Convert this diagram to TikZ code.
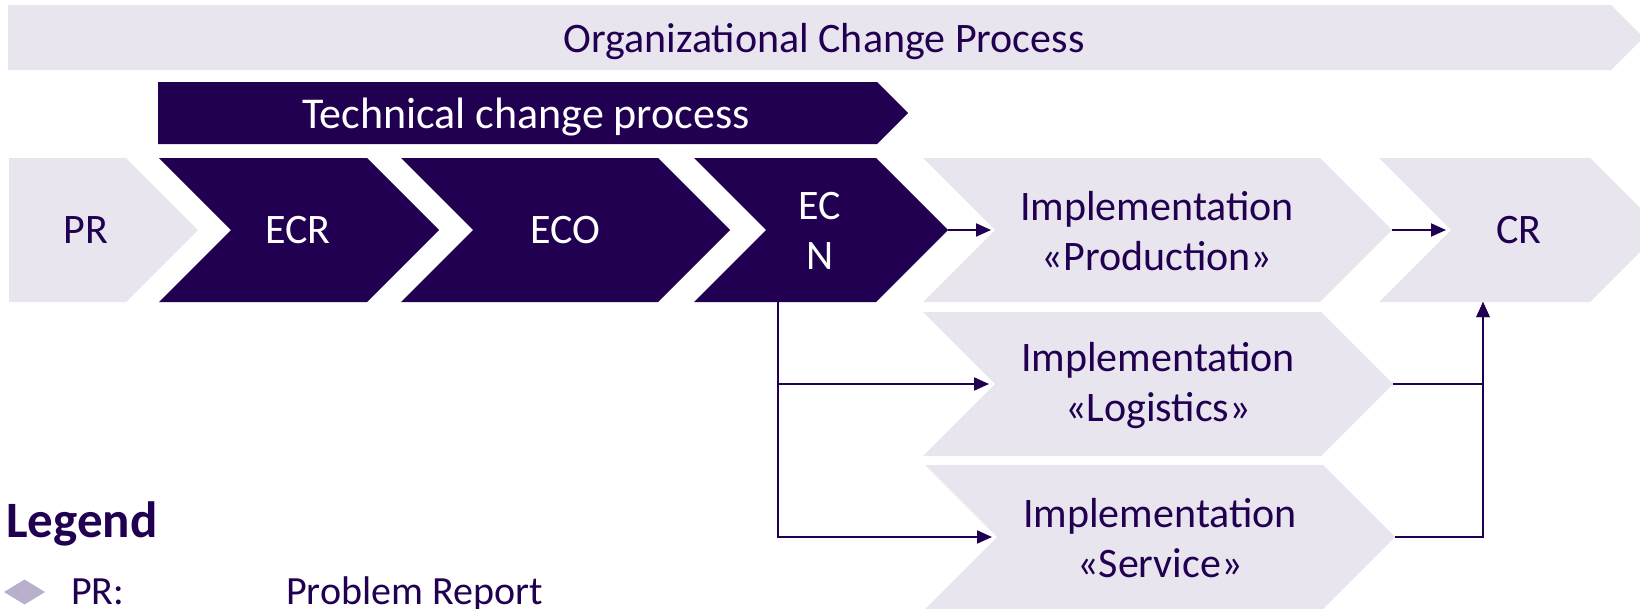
\documentclass[tikz,border=0pt]{standalone}
\usepackage{fontspec}
\setmainfont{Carlito}
\usetikzlibrary{arrows.meta}
\definecolor{dp}{RGB}{33,0,81}
\definecolor{lt}{RGB}{232,229,238}
\definecolor{lg}{RGB}{184,176,204}
% #1 style, #2 left x, #3 notch depth, #4 shoulder x, #5 top y, #6 bottom y
\newcommand\mychev[6]{%
  \fill[#1] (#2,#5) -- (#4,#5) -- ({#4+(#6-#5)/2},{(#5+#6)/2}) -- (#4,#6)
    -- (#2,#6) -- ({#2+#3},{(#5+#6)/2}) -- cycle;}
\begin{document}
\begin{tikzpicture}[x=1pt,y=-1pt,
  dark/.style={fill=dp},
  light/.style={fill=lt},
  wtxt/.style={text=white,font=\fontsize{42}{50}\selectfont,align=center,inner sep=0pt},
  ptxt/.style={text=dp,font=\fontsize{42}{50}\selectfont,align=center,inner sep=0pt},
  conn/.style={draw=dp,line width=2pt},
  arr/.style={conn,-{Triangle[length=15pt,width=13pt]}}]
\useasboundingbox (0,0) rectangle (1640,608);
\clip (0,0) rectangle (1640,608);
% shapes
\mychev{light}{8}{0}{1611}{5}{70}
\mychev{dark}{158}{0}{877}{82}{144}
\mychev{light}{9}{0}{126}{158}{302}
\mychev{dark}{159}{72}{367}{158}{302}
\mychev{dark}{401}{72}{658}{158}{302}
\mychev{dark}{694}{72}{876}{158}{302}
\mychev{light}{923}{72}{1320}{158}{302}
\mychev{light}{1379}{72}{1590}{158}{302}
\mychev{light}{923}{72}{1321}{312}{456}
\mychev{light}{925}{72}{1323}{465}{609}
% texts
\node[ptxt,anchor=base] (org) at (824,52) {Organizational Change Process};
\node[wtxt,anchor=base,font=\fontsize{44}{50}\selectfont] (tech) at (526,128) {Technical change process};
\node[ptxt] (pr) at (86,230) {PR};
\node[wtxt] (ecr) at (298,230) {ECR};
\node[wtxt] (eco) at (565,230) {ECO};
\node[wtxt] (ecn) at (820,231) {EC\\N};
\node[ptxt] (prod) at (1157,231) {Implementation\\«Production»};
\node[ptxt] (cr) at (1519,230) {CR};
\node[ptxt] (log) at (1158,386) {Implementation\\«Logistics»};
\node[ptxt] (svc) at (1160,538) {Implementation\\«Service»};
% connector ends
\coordinate (ecn-tip) at (948,230);
\coordinate (prod-in) at (991,230);
\coordinate (prod-tip) at (1392,230);
\coordinate (cr-in) at (1446,230);
\coordinate (ecn-bot) at (778,302);
\coordinate (log-in) at (989,384);
\coordinate (svc-in) at (992,537);
\coordinate (log-tip) at (1393,384);
\coordinate (svc-tip) at (1395,537);
\coordinate (cr-bot) at (1483,302);
\draw[arr] (ecn-tip) -- (prod-in);
\draw[arr] (prod-tip) -- (cr-in);
\draw[arr] (ecn-bot) |- (log-in);
\draw[arr] (ecn-bot) |- (svc-in);
\draw[arr] (log-tip) -| (cr-bot);
\draw[arr] (svc-tip) -| (cr-bot);
% legend
\node[anchor=base west,inner sep=0pt,text=dp,font=\bfseries\fontsize{51}{60}\selectfont] (legend) at (6,537) {Legend};
\fill[lg] (4,592) -- (24.5,579.5) -- (45,592) -- (24.5,604.5) -- cycle;
\node[anchor=base west,inner sep=0pt,text=dp,font=\fontsize{40}{48}\selectfont] (prkey) at (71,604) {PR:};
\node[anchor=base west,inner sep=0pt,text=dp,font=\fontsize{40}{48}\selectfont] (prval) at (286,604) {Problem Report};
\end{tikzpicture}
\end{document}
